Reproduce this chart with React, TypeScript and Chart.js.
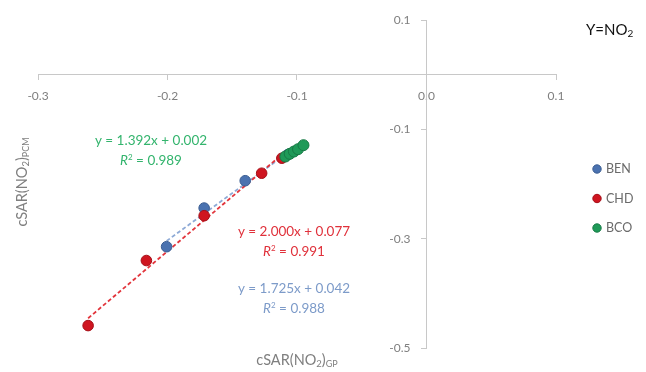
import React, { useEffect, useRef } from 'react';
import { Chart, registerables } from 'chart.js';

Chart.register(...registerables);

// ---- data ----
const seriesNames = ['BEN', 'CHD', 'BCO'];
const benX = [-0.2007, -0.1717, -0.14, -0.107];
const benY = [-0.3147, -0.244, -0.194, -0.146];
const chdX = [-0.2613, -0.2163, -0.1717, -0.1273, -0.1117];
const chdY = [-0.459, -0.34, -0.258, -0.1803, -0.1528];
const bcoX = [-0.109, -0.1056, -0.1024, -0.0992, -0.095];
const bcoY = [-0.1498, -0.1448, -0.1406, -0.1363, -0.129];
const slopes = [1.725, 2.0, 1.392];
const intercepts = [0.042, 0.077, 0.002];
const rSquared = [0.988, 0.991, 0.989];
const xTicks = [-0.3, -0.2, -0.1, 0.0, 0.1];
const yTicks = [-0.5, -0.3, -0.1, 0.1];

// ---- styles ----
const FONT = 'Lato, "Open Sans", sans-serif';
const pointFill = ['#4a72b0', '#cf1520', '#1f9a58'];
const pointBorder = ['#3b5d92', '#a50f18', '#177a45'];
const trendColor = ['#8eaad6', '#e2353c', '#3dbb70'];
const eqColor = ['#7d9bc9', '#e0313b', '#33b46d'];
const axisColor = '#c8c8c8';
const tickColor = '#7f7f7f';
const TICK_LEN = 5;
const Y_LABEL_GAP = 11;
// label anchors (pixel centres) for the trendline equations, same order as series
const eqPos = [
  [294, 289],
  [294, 232],
  [151, 141],
];

type Part = { t: string; size: number; dy?: number; italic?: boolean };

function drawRich(
  ctx: CanvasRenderingContext2D,
  parts: Part[],
  x: number,
  y: number,
  align: 'left' | 'center' | 'right',
  color: string
) {
  ctx.save();
  ctx.fillStyle = color;
  ctx.textBaseline = 'middle';
  ctx.textAlign = 'left';
  const fontOf = (p: Part) => `${p.italic ? 'italic ' : ''}${p.size}px ${FONT}`;
  let w = 0;
  for (const p of parts) {
    ctx.font = fontOf(p);
    w += ctx.measureText(p.t).width;
  }
  let cx = align === 'center' ? x - w / 2 : align === 'right' ? x - w : x;
  for (const p of parts) {
    ctx.font = fontOf(p);
    ctx.fillText(p.t, cx, y + (p.dy || 0));
    cx += ctx.measureText(p.t).width;
  }
  ctx.restore();
}

const xsAll = [benX, chdX, bcoX];
const ysAll = [benY, chdY, bcoY];
const fmt = (v: number) => Number(v).toFixed(1);

const decorPlugin = {
  id: 'decor',
  afterDraw(chart: any) {
    const ctx: CanvasRenderingContext2D = chart.ctx;
    const xs = chart.scales.x;
    const ys = chart.scales.y;
    // y tick labels (left of the centred y axis)
    const axisX = xs.getPixelForValue(0);
    for (const v of yTicks) {
      drawRich(ctx, [{ t: fmt(v), size: 12 }], axisX - TICK_LEN - Y_LABEL_GAP, ys.getPixelForValue(v), 'right', tickColor);
    }
    // equations
    for (let i = 0; i < 3; i++) {
      const [ex, ey] = eqPos[i];
      drawRich(
        ctx,
        [{ t: `y = ${slopes[i].toFixed(3)}x + ${intercepts[i].toFixed(3)}`, size: 13.5 }],
        ex,
        ey,
        'center',
        eqColor[i]
      );
      drawRich(
        ctx,
        [
          { t: 'R', size: 13.5, italic: true },
          { t: '2', size: 8, dy: -4 },
          { t: ` = ${rSquared[i].toFixed(3)}`, size: 13.5 },
        ],
        ex,
        ey + 20,
        'center',
        eqColor[i]
      );
    }
    // legend
    for (let i = 0; i < 3; i++) {
      const ly = 169 + i * 29.5;
      ctx.save();
      ctx.beginPath();
      ctx.arc(597, ly, 4.2, 0, Math.PI * 2);
      ctx.fillStyle = pointFill[i];
      ctx.fill();
      ctx.lineWidth = 1;
      ctx.strokeStyle = pointBorder[i];
      ctx.stroke();
      ctx.restore();
      drawRich(ctx, [{ t: seriesNames[i], size: 12.5 }], 606, ly, 'left', '#6a6a6a');
    }
    // title
    drawRich(
      ctx,
      [
        { t: 'Y=NO', size: 15 },
        { t: '2', size: 10, dy: 4 },
      ],
      586,
      30,
      'left',
      '#111111'
    );
    // x axis title
    drawRich(
      ctx,
      [
        { t: 'cSAR(NO', size: 14.5 },
        { t: '2', size: 9.5, dy: 4 },
        { t: ')', size: 14.5 },
        { t: 'GP', size: 9, dy: 4 },
      ],
      297,
      360,
      'center',
      '#7f7f7f'
    );
    // y axis title
    ctx.save();
    ctx.translate(22, 182);
    ctx.rotate(-Math.PI / 2);
    drawRich(
      ctx,
      [
        { t: 'cSAR(NO', size: 14.5 },
        { t: '2', size: 9.5, dy: 4 },
        { t: ')', size: 14.5 },
        { t: 'PCM', size: 9, dy: 4 },
      ],
      0,
      0,
      'center',
      '#7f7f7f'
    );
    ctx.restore();
  },
};

export default function App() {
  const ref = useRef<HTMLCanvasElement | null>(null);
  useEffect(() => {
    document.body.style.margin = '0';
    const canvas = ref.current;
    if (!canvas) return;

    const pointSets = [0, 1, 2].map((i) => ({
      type: 'scatter' as const,
      label: seriesNames[i],
      data: xsAll[i].map((x, k) => ({ x, y: ysAll[i][k] })),
      backgroundColor: pointFill[i],
      borderColor: pointBorder[i],
      borderWidth: 1,
      pointRadius: i === 2 ? 5.5 : 5.3,
      order: [2, 1, 0][i],
    }));
    const trendSets = [0, 1, 2].map((i) => {
      const xmin = Math.min(...xsAll[i]);
      const xmax = Math.max(...xsAll[i]);
      return {
        type: 'scatter' as const,
        label: seriesNames[i] + ' trend',
        data: [
          { x: xmin, y: slopes[i] * xmin + intercepts[i] },
          { x: xmax, y: slopes[i] * xmax + intercepts[i] },
        ],
        showLine: true,
        borderColor: trendColor[i],
        backgroundColor: trendColor[i],
        borderWidth: 1.8,
        borderDash: [4, 2.5],
        pointRadius: 0,
        order: [5, 4, 3][i],
      };
    });

    const chart = new Chart(canvas, {
      type: 'scatter',
      data: { datasets: [...pointSets, ...trendSets] as any },
      options: {
        animation: false,
        responsive: false,
        maintainAspectRatio: false,
        layout: { padding: { left: 38, right: 90, top: 20, bottom: 24 } },
        plugins: { legend: { display: false }, tooltip: { enabled: false } },
        scales: {
          x: {
            type: 'linear',
            min: -0.3,
            max: 0.1,
            position: { y: 0 } as any,
            afterBuildTicks: (s: any) => {
              s.ticks = xTicks.map((v) => ({ value: v }));
            },
            ticks: {
              callback: (v: any) => fmt(v),
              color: tickColor,
              font: { family: FONT, size: 12 },
              padding: 9,
              maxRotation: 0,
            },
            grid: { drawOnChartArea: false, drawTicks: true, tickLength: TICK_LEN, color: axisColor },
            border: { display: true, color: axisColor, width: 1 },
          },
          y: {
            type: 'linear',
            min: -0.5,
            max: 0.1,
            position: { x: 0 } as any,
            afterBuildTicks: (s: any) => {
              s.ticks = yTicks.map((v) => ({ value: v }));
            },
            ticks: { display: false },
            grid: { drawOnChartArea: false, drawTicks: true, tickLength: TICK_LEN, color: axisColor },
            border: { display: true, color: axisColor, width: 1 },
          },
        },
      },
      plugins: [decorPlugin],
    });
    return () => chart.destroy();
  }, []);

  return (
    <div style={{ width: 646, height: 372, background: '#ffffff' }}>
      <canvas ref={ref} width={646} height={372} style={{ display: 'block', width: 646, height: 372 }} />
    </div>
  );
}
